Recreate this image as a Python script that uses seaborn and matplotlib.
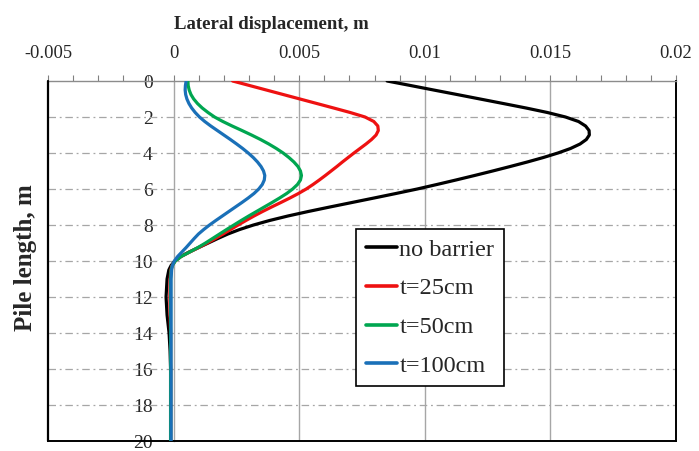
import matplotlib
matplotlib.use("Agg")
import matplotlib.pyplot as plt
from matplotlib.ticker import MultipleLocator
import pandas as pd
import seaborn as sns

# Pile depth (m) and lateral displacement (m) for each barrier case
depth = [0, 0.25, 0.5, 0.75, 1, 1.25, 1.5, 1.75,
         2, 2.25, 2.5, 2.75, 3, 3.25, 3.5, 3.75,
         4, 4.25, 4.5, 4.75, 5, 5.25, 5.5, 5.75,
         6, 6.25, 6.5, 6.75, 7, 7.25, 7.5, 7.75,
         8, 8.25, 8.5, 8.75, 9, 9.25, 9.5, 9.75,
         10, 10.25, 10.5,
         11, 12, 13, 14, 15, 16, 17, 18, 19, 20]

no_barrier = [0.00850, 0.00943, 0.01035, 0.01128, 0.01220, 0.01312, 0.01403, 0.01488,
              0.01560, 0.01612, 0.01640, 0.01654, 0.01655, 0.01643, 0.01618, 0.01580,
              0.01530, 0.01472, 0.01408, 0.01340, 0.01270, 0.01198, 0.01124, 0.01048,
              0.00970, 0.00885, 0.00798, 0.00710, 0.00622, 0.00536, 0.00455, 0.00382,
              0.00318, 0.00263, 0.00216, 0.00176, 0.00138, 0.00100, 0.00062, 0.00028,
              0.00005, -0.00010, -0.00019,
              -0.00026, -0.00030, -0.00026, -0.00018, -0.00014, -0.00012,
              -0.00012, -0.00012, -0.00012, -0.00012]
t25 = [0.00235, 0.00302, 0.00369, 0.00436, 0.00503, 0.00570, 0.00637, 0.00703,
       0.00762, 0.00797, 0.00813, 0.00815, 0.00806, 0.00788, 0.00766, 0.00742,
       0.00718, 0.00695, 0.00672, 0.00650, 0.00627, 0.00604, 0.00580, 0.00555,
       0.00528, 0.00497, 0.00463, 0.00427, 0.00390, 0.00354, 0.00320, 0.00288,
       0.00257, 0.00227, 0.00197, 0.00166, 0.00134, 0.00100, 0.00064, 0.00030,
       0.00006, -0.00006, -0.00011,
       -0.00014, -0.00015, -0.00014, -0.00012, -0.00012, -0.00012,
       -0.00012, -0.00012, -0.00012, -0.00012]
t50 = [0.00057, 0.00058, 0.00062, 0.00069, 0.00080, 0.00095, 0.00114, 0.00137,
       0.00163, 0.00196, 0.00233, 0.00272, 0.00310, 0.00346, 0.00379, 0.00409,
       0.00436, 0.00459, 0.00479, 0.00495, 0.00505, 0.00509, 0.00505, 0.00493,
       0.00474, 0.00450, 0.00422, 0.00392, 0.00361, 0.00330, 0.00299, 0.00269,
       0.00240, 0.00211, 0.00183, 0.00155, 0.00127, 0.00097, 0.00064, 0.00030,
       0.00007, -0.00005, -0.00010,
       -0.00012, -0.00012, -0.00012, -0.00012, -0.00012, -0.00012,
       -0.00012, -0.00012, -0.00012, -0.00012]
t100 = [0.00050, 0.00047, 0.00046, 0.00048, 0.00053, 0.00061, 0.00072, 0.00086,
        0.00103, 0.00124, 0.00148, 0.00174, 0.00200, 0.00226, 0.00251, 0.00275,
        0.00297, 0.00317, 0.00334, 0.00348, 0.00358, 0.00363, 0.00361, 0.00353,
        0.00339, 0.00320, 0.00297, 0.00272, 0.00246, 0.00220, 0.00194, 0.00168,
        0.00143, 0.00120, 0.00099, 0.00082, 0.00066, 0.00050, 0.00033, 0.00016,
        0.00003, -0.00005, -0.00008,
        -0.00010, -0.00010, -0.00010, -0.00010, -0.00010, -0.00010,
        -0.00010, -0.00010, -0.00010, -0.00010]

series_names = ["no barrier", "t=25cm", "t=50cm", "t=100cm"]
series_colors = ["#000000", "#EE1111", "#00A650", "#1A70B8"]

x_ticks = [-0.005, 0, 0.005, 0.01, 0.015, 0.02]
x_tick_labels = ["-0.005", "0", "0.005", "0.01", "0.015", "0.02"]
y_ticks = [0, 2, 4, 6, 8, 10, 12, 14, 16, 18, 20]

frames = []
for name, vals in zip(series_names, [no_barrier, t25, t50, t100]):
    frames.append(pd.DataFrame({"depth": depth, "disp": vals, "case": name}))
df = pd.concat(frames, ignore_index=True)

sns.set_style("white")
plt.rcParams["font.family"] = ["Liberation Serif", "DejaVu Serif"]

fig = plt.figure(figsize=(6.99, 4.51), dpi=100)
ax = fig.add_axes([48 / 699, 1 - 441 / 451, 628 / 699, 360 / 451])

grid_gray = "#A6A6A6"

# grid: solid verticals, dash-dot horizontals
for xv in [0.005, 0.01, 0.015]:
    ax.axvline(xv, color=grid_gray, lw=1.0, zorder=1)
for yv in y_ticks[1:-1]:
    ax.axhline(yv, color=grid_gray, lw=0.9, ls=(0, (6, 3, 1.5, 3)), zorder=1)

sns.lineplot(data=df, x="disp", y="depth", hue="case", hue_order=series_names,
             palette=series_colors, orient="y", estimator=None, sort=False,
             lw=2.3, ax=ax, zorder=3)
for ln in ax.get_lines()[-4:]:
    ln.set_solid_joinstyle("round")
    ln.set_solid_capstyle("round")

ax.set_xlim(-0.005, 0.02)
ax.set_ylim(20, 0)

# top axis
ax.xaxis.tick_top()
ax.set_xticks(x_ticks, labels=x_tick_labels)
ax.xaxis.set_minor_locator(MultipleLocator(0.001))
ax.tick_params(axis="x", which="both", direction="out", length=4.5,
               width=0.8, color="#808080", labelsize=13.3, pad=9.5,
               top=True, bottom=False)

# y axis drawn along x = 0
ax.spines["left"].set_position(("data", 0))
ax.spines["left"].set_color(grid_gray)
ax.spines["left"].set_linewidth(1.0)
ax.spines["left"].set_zorder(1)
ax.set_yticks(y_ticks)
ax.tick_params(axis="y", length=0, labelsize=14, pad=15)

ax.spines["top"].set_color("#8C8C8C")
ax.spines["top"].set_linewidth(1.0)
for s in ["bottom", "right"]:
    ax.spines[s].set_color("black")
    ax.spines[s].set_linewidth(1.4)
ax.axvline(-0.005, color="black", lw=1.6, clip_on=False, zorder=5)

ax.set_xlabel("Lateral displacement, m", fontsize=13.5, fontweight="bold")
ax.xaxis.set_label_coords((271 - 48) / 628, (441 - 16) / 360)
ax.xaxis.label.set_va("top")
ax.set_ylabel("Pile length, m", fontsize=18, fontweight="bold")
ax.yaxis.set_label_coords(-0.0175, 0.51)

handles, labels = ax.get_legend_handles_labels()
for h in handles:
    h.set_linewidth(2.6)
leg = ax.legend(handles, labels, loc="upper left",
                bbox_to_anchor=((356 - 48) / 628, (441 - 229) / 360),
                borderaxespad=0, fontsize=17.5, frameon=True, fancybox=False,
                edgecolor="black", framealpha=1, handlelength=1.3,
                handletextpad=0.08, labelspacing=0.685, borderpad=0.4)
leg.get_frame().set_linewidth(1.2)
leg.set_zorder(6)

fig.savefig("out.png", dpi=100)
